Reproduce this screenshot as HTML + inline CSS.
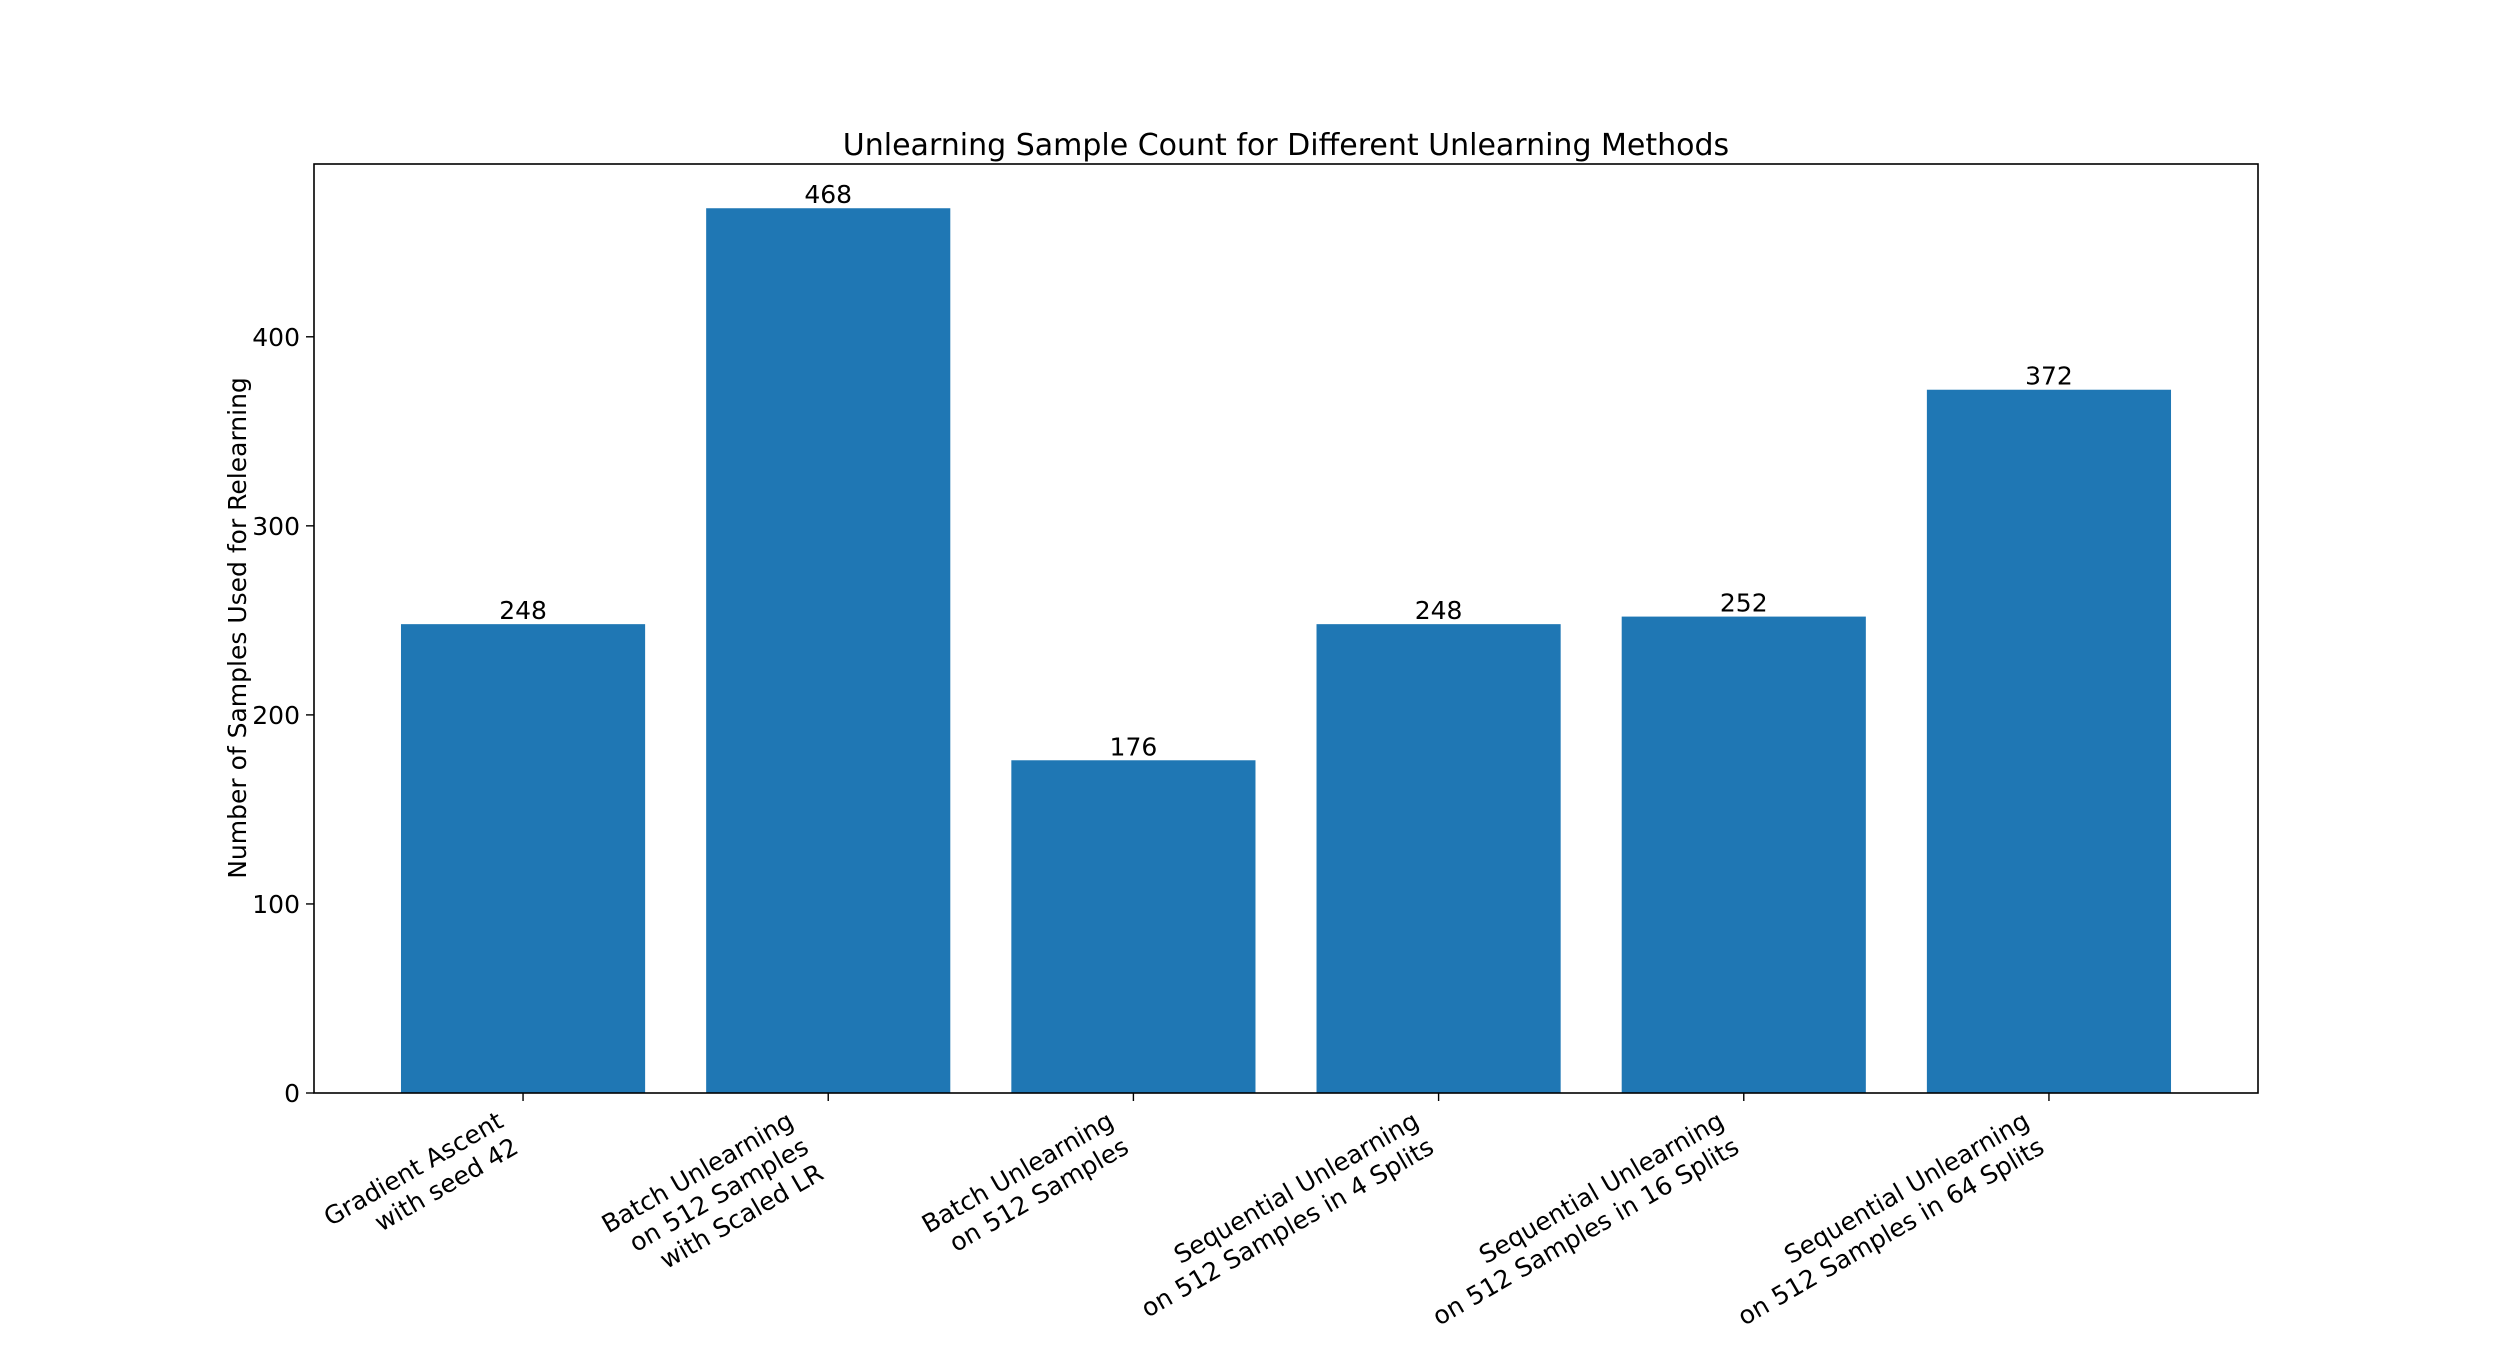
<!DOCTYPE html>
<html><head><meta charset="utf-8"><style>
html,body{margin:0;padding:0;background:#fff;}
svg{display:block;font-family:"DejaVu Sans","Liberation Sans",sans-serif;}
</style></head><body>
<svg id="chart" width="2506" height="1365" viewBox="0 0 2506 1365">
<rect width="2506" height="1365" fill="#fff"/>
<text x="1286" y="155" font-size="30" text-anchor="middle">Unlearning Sample Count for Different Unlearning Methods</text>
<text transform="translate(246,628) rotate(-90)" font-size="25" text-anchor="middle">Number of Samples Used for Relearning</text>
<g id="bars"></g>
<g id="yaxis"></g>
<g id="xaxis"></g>
<rect x="314" y="164" width="1944" height="929" fill="none" stroke="#000" stroke-width="1.6"/>
</svg>
<script>
const categories = [
  ["Gradient Ascent","with seed 42"],
  ["Batch Unlearning","on 512 Samples","with Scaled LR"],
  ["Batch Unlearning","on 512 Samples"],
  ["Sequential Unlearning","on 512 Samples in 4 Splits"],
  ["Sequential Unlearning","on 512 Samples in 16 Splits"],
  ["Sequential Unlearning","on 512 Samples in 64 Splits"]
];
const values = [248, 468, 176, 248, 252, 372];
const yTicks = [0, 100, 200, 300, 400];

const NS = "http://www.w3.org/2000/svg";
const L = 314, R = 2258, T = 164, B = 1093;
const yMax = Math.max(...values) * 1.05;
const xMin = -0.685, xMax = categories.length - 1 + 0.685;
const xs = i => L + (i - xMin) / (xMax - xMin) * (R - L);
const ys = v => B - v / yMax * (B - T);
const unit = (R - L) / (xMax - xMin);
function mk(tag, attrs, parent) {
  const e = document.createElementNS(NS, tag);
  for (const k in attrs) e.setAttribute(k, attrs[k]);
  parent.appendChild(e);
  return e;
}
const gb = document.getElementById('bars');
const gy = document.getElementById('yaxis');
const gx = document.getElementById('xaxis');

values.forEach((v, i) => {
  const r = mk('rect', {x: xs(i) - 0.4 * unit, y: ys(v), width: 0.8 * unit, height: B - ys(v), fill: '#1f77b4'}, gb);
  
  
  const t = mk('text', {x: xs(i), y: ys(v) - 5, 'font-size': 25, 'text-anchor': 'middle'}, gb);
  t.textContent = v;
  
  
});

yTicks.forEach(v => {
  const ln = mk('line', {x1: L - 8, x2: L, y1: ys(v), y2: ys(v), stroke: '#000', 'stroke-width': 1.4}, gy);
  
  
  const t = mk('text', {x: L - 14, y: ys(v) + 9, 'font-size': 25, 'text-anchor': 'end'}, gy);
  t.textContent = v;
  
  
});

categories.forEach((lines, i) => {
  const x = xs(i);
  const ln = mk('line', {x1: x, x2: x, y1: B, y2: B + 8, stroke: '#000', 'stroke-width': 1.4}, gx);
  
  
  const h = lines.length * 30;
  const g = mk('g', {transform: 'translate(' + (x - 0.5 * h) + ',' + (B + 12) + ') rotate(-30)'}, gx);
  
  
  lines.forEach((s, j) => {
    const t = mk('text', {x: 0, y: 24 + j * 30, 'font-size': 25, 'text-anchor': 'end'}, g);
    t.textContent = s;
  });
});
</script>
</body></html>
